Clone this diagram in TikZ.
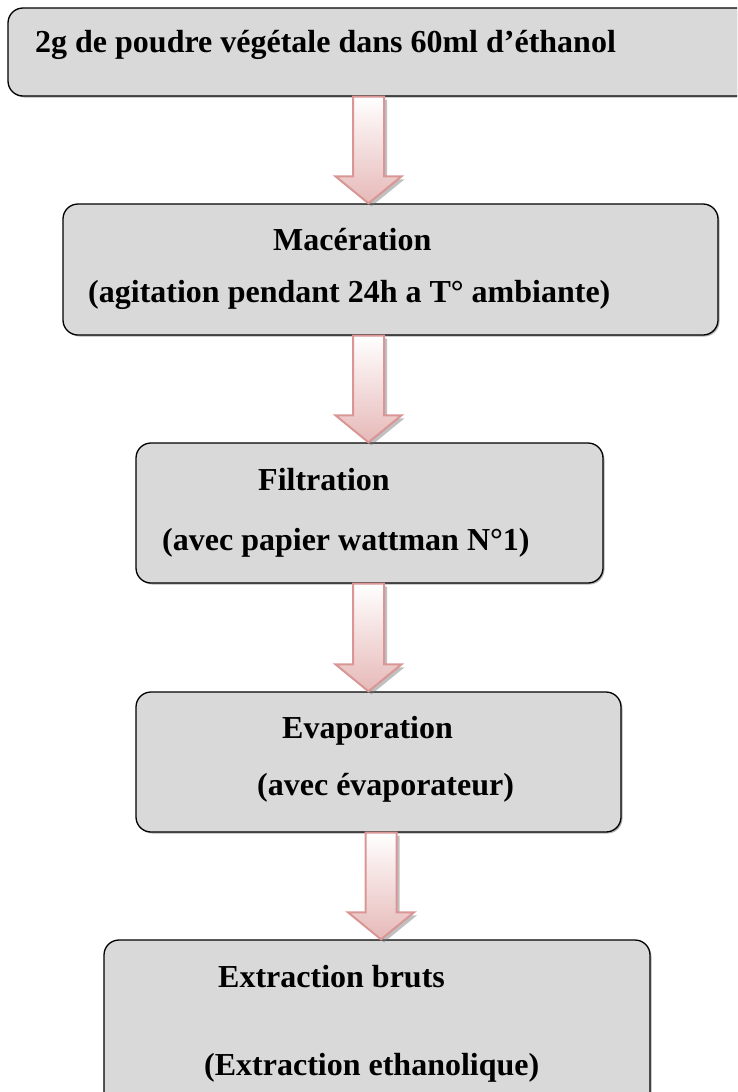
\documentclass[tikz,border=0pt]{standalone}
\usepackage{fontspec}
\setmainfont{Liberation Serif}
\usetikzlibrary{calc,shadows}
\definecolor{gris}{HTML}{D9D9D9}
\definecolor{rosebord}{HTML}{D99694}
\definecolor{rosefond}{HTML}{E6B9B8}
\tikzstyle{boite} = [draw=black, line width=1.3pt, fill=gris, rounded corners=15pt, inner sep=0pt,
  drop shadow={shadow xshift=1.5pt, shadow yshift=-1.5pt, fill=black!60, opacity=.5}]
\tikzstyle{texte} = [anchor=base west, inner sep=0pt, font=\bfseries\fontsize{32}{38}\selectfont]
\tikzstyle{fleche} = [draw=rosebord, line width=2pt, top color=white, bottom color=rosefond,
  drop shadow={shadow xshift=3pt, shadow yshift=-3pt, fill=black!55, opacity=.45}]
% fleche bloc : #1 = x du centre, #2 = boite du haut, #3 = boite du bas
\newcommand{\fleche}[3]{%
  \path[fleche] let \p1=(#2.south), \p2=(#3.north) in
    (#1pt-15.5pt,\y1) -- (#1pt+15.5pt,\y1) -- (#1pt+15.5pt,\y2+27pt) -- (#1pt+33pt,\y2+27pt)
    -- (#1pt,\y2) -- (#1pt-33pt,\y2+27pt) -- (#1pt-15.5pt,\y2+27pt) -- cycle;
}

\begin{document}
\begin{tikzpicture}[x=1pt,y=1pt]
	  \useasboundingbox (0,0) rectangle (737,-1092);
	  \clip (0,0) rectangle (737,-1092);

	  \node (a) at (458,-52) [boite, minimum width=900, minimum height=88] {};
	  \node (b) at (390.5,-269.5) [boite, minimum width=655, minimum height=131] {};
	  \node (c) at (369.5,-513) [boite, minimum width=467, minimum height=140] {};
	  \node (d) at (378.5,-762) [boite, minimum width=485, minimum height=140] {};
	  \node (e) at (377,-1036) [boite, minimum width=546, minimum height=192] {};

	  \node (a1) at (35,-52) [texte] {2g de poudre végétale dans 60ml d’éthanol};
	  \node (b1) at (273,-250) [texte] {Macération};
	  \node (b2) at (88,-302) [texte] {(agitation pendant 24h a T° ambiante)};
	  \node (c1) at (258,-490) [texte] {Filtration};
	  \node (c2) at (162,-550) [texte] {(avec papier wattman N°1)};
	  \node (d1) at (282,-738) [texte] {Evaporation};
	  \node (d2) at (257,-795) [texte] {(avec évaporateur)};
	  \node (e1) at (218,-987) [texte] {Extraction bruts};
	  \node (e2) at (204,-1075) [texte] {(Extraction ethanolique)};

	  \fleche{368.5}{a}{b}
	  \fleche{368.5}{b}{c}
	  \fleche{368.5}{c}{d}
	  \fleche{381}{d}{e}
\end{tikzpicture}
\end{document}
